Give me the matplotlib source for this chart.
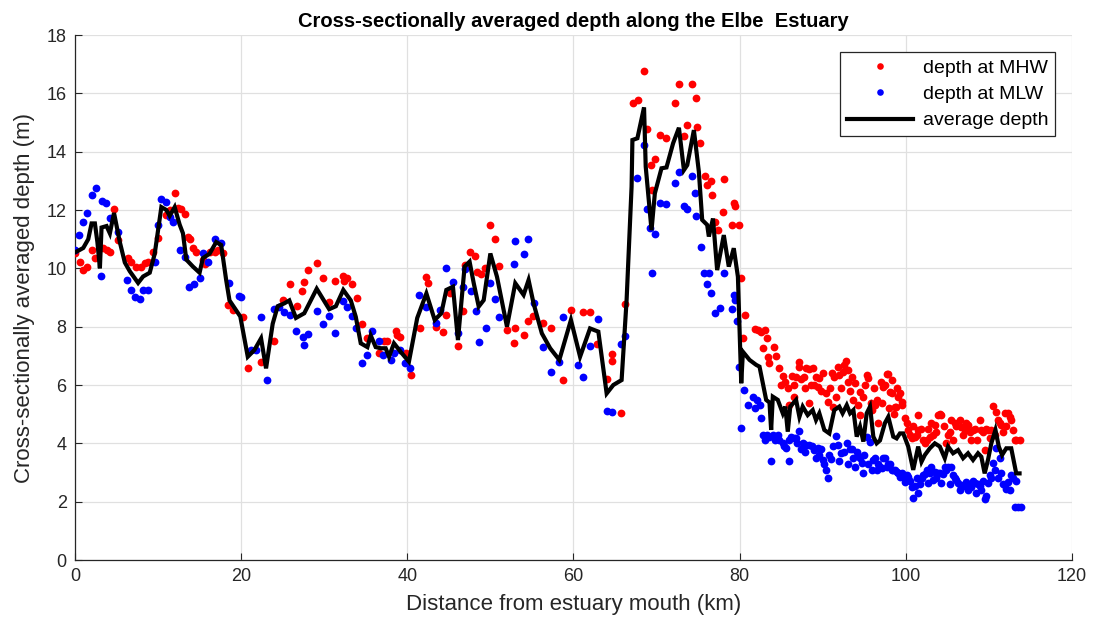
import matplotlib
matplotlib.use("Agg")
import matplotlib.pyplot as plt

plt.rcParams['font.family'] = ['Liberation Sans', 'DejaVu Sans']

# Depth at mean high water (km, m)
mhw_km = [0.0, 0.6, 1.0, 1.5, 2.0, 2.4, 3.4, 3.8, 4.2, 4.7, 5.2, 6.4, 6.8, 7.4, 7.9, 8.4, 8.8,
          9.4, 10.0, 11.0, 11.4, 12.0, 12.4, 12.8, 13.2, 13.6, 13.8, 14.2, 14.6, 15.4, 15.6, 16.2,
          16.8, 17.2, 17.8, 18.4, 19.0, 20.2, 20.8, 22.4, 24.0, 25.1, 25.9, 26.7, 27.3, 27.6,
          28.1, 29.1, 29.8, 30.6, 31.3, 32.3, 32.8, 32.4, 33.3, 33.9, 34.6, 35.2, 36.6, 37.2,
          37.6, 38.6, 38.8, 39.1, 39.9, 40.5, 41.5, 42.2, 42.5, 43.5, 44.3, 44.7, 45.1, 46.1,
          46.7, 46.9, 47.5, 48.2, 48.4, 48.9, 49.4, 50.0, 50.5, 51.0, 52.0, 52.8, 53.0, 54.0,
          54.5, 55.1, 56.3, 57.3, 58.7, 59.7, 61.2, 62.0, 62.8, 64.1, 64.7, 64.7, 65.7, 66.2,
          67.2, 67.8, 68.5, 68.9, 69.3, 69.4, 69.8, 70.4, 71.2, 72.2, 72.7, 73.3, 73.7, 74.3,
          74.7, 74.9, 75.2, 75.8, 76.1, 76.5, 76.7, 77.1, 77.4, 78.0, 78.1, 79.1, 79.3, 79.5,
          79.9, 80.2, 80.4, 80.6, 81.8, 82.2, 82.6, 82.8, 83.4, 83.6, 84.2, 84.8, 85.0, 85.5,
          86.0, 86.3, 86.8, 87.1, 87.2, 87.8, 88.0, 88.4, 88.6, 88.8, 89.2, 89.4, 89.6, 90.4,
          90.6, 91.2, 91.4, 91.8, 92.0, 92.4, 92.8, 93.1, 93.5, 93.9, 94.5, 94.5, 95.3, 95.5,
          95.9, 96.3, 96.7, 97.1, 97.3, 97.5, 97.8, 97.9, 98.1, 98.3, 98.4, 98.7, 98.8, 99.1,
          99.3, 99.5, 99.9, 100.3, 100.7, 101.1, 101.5, 101.5, 102.1, 102.5, 102.9, 103.1,
          103.5, 103.9, 104.3, 104.9, 105.3, 105.5, 105.9, 106.5, 106.7, 107.1, 107.5, 107.9,
          108.1, 108.9, 109.1, 109.5, 109.9, 110.3, 110.5, 110.9, 111.1, 111.5, 111.9, 112.3,
          112.7, 112.9, 113.1, 113.7,
          83.0, 83.3, 84.4, 85.2, 85.8, 86.5, 86.6, 87.4, 87.9, 88.3, 89.0, 89.8, 90.1, 90.9,
          91.1, 91.6, 92.2, 92.6, 93.0, 93.3, 93.7, 94.2, 94.8, 95.1, 95.8, 96.2, 96.6, 97.0,
          98.0, 98.6, 99.0, 99.6, 100.1, 100.5, 100.9, 101.3, 101.8, 102.3, 102.7, 103.3,
          103.7, 104.1, 104.6, 105.1, 105.7, 106.1, 106.9, 107.3, 107.7, 108.3, 108.6, 109.3,
          109.7, 110.1, 110.7, 111.3, 111.7, 112.1, 112.5, 113.3]
mhw_m = [10.51, 10.23, 9.94, 10.06, 10.63, 10.34, 10.69, 10.63, 10.57, 12.02, 10.97, 10.34,
         10.23, 10.06, 10.06, 10.17, 10.23, 10.57, 11.03, 11.83, 12.00, 12.59, 12.06, 12.02,
         11.86, 11.09, 11.00, 10.69, 10.57, 10.29, 10.15, 10.57, 10.57, 10.63, 10.51, 8.74,
         8.57, 8.34, 6.57, 6.80, 7.50, 8.90, 9.46, 8.70, 9.23, 9.54, 9.94, 10.17, 9.66, 8.86,
         9.57, 9.74, 9.66, 9.55, 9.46, 8.97, 8.10, 7.60, 7.10, 7.50, 7.50, 7.86, 7.70, 7.66,
         7.09, 6.34, 7.97, 9.69, 9.49, 7.98, 7.83, 8.40, 9.14, 7.35, 8.54, 10.10, 10.57, 10.43,
         9.89, 9.80, 10.00, 11.49, 11.00, 10.09, 7.89, 7.45, 7.97, 7.71, 8.20, 8.37, 8.14, 7.97,
         6.17, 8.57, 8.49, 8.51, 7.41, 6.20, 7.06, 6.83, 5.05, 8.77, 15.68, 15.77, 16.78, 14.77,
         13.54, 12.69, 13.74, 14.57, 14.46, 15.68, 16.32, 14.54, 14.91, 16.32, 15.83, 14.86,
         14.29, 13.17, 12.86, 13.00, 12.51, 11.60, 11.30, 11.94, 13.05, 11.49, 12.23, 12.15,
         11.49, 9.66, 7.60, 8.40, 7.92, 7.88, 7.83, 7.26, 6.97, 6.75, 7.29, 6.57, 6.00, 6.11,
         5.31, 6.31, 6.29, 6.63, 6.80, 6.29, 6.57, 6.55, 6.00, 6.57, 6.29, 5.94, 6.23, 5.71,
         5.43, 5.26, 6.29, 6.63, 6.34, 6.45, 6.82, 6.51, 6.29, 6.06, 5.77, 4.97, 6.34, 6.23,
         5.14, 5.31, 4.71, 5.37, 5.94, 6.00, 6.38, 6.38, 5.77, 6.17, 5.71, 5.26, 5.26, 5.60,
         5.71, 5.43, 4.86, 4.46, 4.17, 4.23, 4.97, 4.46, 4.11, 4.11, 4.23, 4.69, 4.63, 4.97,
         4.97, 4.00, 4.40, 4.80, 4.69, 4.80, 4.57, 4.46, 4.63, 4.11, 4.46, 4.80, 4.46, 3.77,
         4.46, 4.46, 5.28, 5.09, 4.80, 4.63, 5.03, 5.03, 4.80, 4.46, 4.11, 4.11,
         7.90, 7.60, 7.00, 6.30, 5.90, 6.00, 5.60, 6.20, 5.90, 5.40, 6.00, 5.80, 6.40, 5.90,
         6.40, 5.60, 5.90, 6.70, 6.10, 5.80, 5.50, 5.30, 5.60, 6.00, 5.40, 5.90, 5.50, 6.10,
         5.20, 5.00, 5.90, 5.30, 4.70, 4.30, 4.60, 4.30, 4.50, 4.00, 4.50, 4.30, 4.40, 5.00,
         4.60, 4.30, 4.10, 4.60, 4.30, 4.70, 4.40, 4.50, 4.10, 4.40, 4.50, 4.20, 4.30, 4.70,
         4.40, 4.60, 4.90, 4.10]

# Depth at mean low water (km, m)
mlw_km = [0.0, 0.5, 1.0, 1.5, 2.0, 2.5, 3.1, 3.2, 3.7, 4.2, 5.2, 6.3, 6.8, 7.2, 7.8, 8.2, 8.8,
          9.6, 10.0, 10.4, 11.0, 11.4, 11.8, 12.7, 13.2, 13.7, 14.3, 15.0, 15.4, 16.0, 16.9,
          17.6, 18.5, 19.8, 20.0, 21.2, 21.8, 22.4, 23.1, 23.9, 24.6, 25.2, 25.9, 26.6, 27.4,
          27.6, 28.1, 29.1, 29.8, 30.6, 31.3, 32.3, 32.8, 33.3, 33.8, 34.6, 35.2, 35.8, 36.6,
          37.1, 38.0, 38.4, 39.1, 39.7, 40.3, 41.4, 42.2, 43.5, 43.9, 44.7, 45.5, 46.1, 46.7,
          47.0, 47.7, 48.3, 48.6, 49.5, 50.0, 50.6, 51.0, 52.8, 53.0, 54.0, 54.5, 55.3, 56.3,
          57.3, 58.3, 58.8, 60.6, 61.2, 62.0, 63.0, 64.0, 64.7, 65.7, 66.2, 67.7, 68.5, 68.8,
          69.2, 69.5, 69.8, 70.4, 71.2, 72.2, 72.7, 73.3, 73.7, 74.3, 74.6, 74.8, 75.3, 75.7,
          76.1, 76.3, 76.5, 77.0, 77.6, 78.1, 79.1, 79.3, 79.5, 79.7, 79.9, 80.2, 80.5, 81.6,
          82.1, 82.4, 82.6, 83.0, 83.6, 83.8, 84.0, 84.8, 85.2, 85.6, 86.0, 86.2, 86.8, 87.1,
          87.6, 88.0, 88.4, 89.0, 89.4, 89.6, 90.0, 90.4, 90.6, 91.0, 91.6, 91.8, 92.2, 92.9,
          93.3, 93.7, 94.1, 94.3, 94.7, 94.9, 95.3, 95.7, 96.1, 96.5, 96.9, 97.1, 97.5, 97.9,
          98.3, 98.5, 98.9, 99.1, 99.3, 99.9, 100.3, 100.7, 100.9, 101.3, 101.5, 101.9, 102.3,
          102.5, 103.1, 103.5, 103.7, 104.1, 104.3, 104.7, 105.1, 105.5, 105.9, 106.3, 106.5,
          106.9, 107.3, 107.7, 108.3, 108.5, 108.9, 109.5, 109.9, 110.1, 110.5, 110.9, 111.3,
          111.5, 111.9, 112.3, 112.5, 112.7, 112.9, 113.1, 113.5, 113.9,
          81.0, 81.9, 82.8, 83.3, 84.3, 84.6, 85.4, 85.9, 86.5, 86.9, 87.4, 87.9, 88.7, 89.2,
          89.8, 90.2, 90.8, 91.3, 92.0, 92.6, 93.0, 93.5, 93.9, 94.5, 95.0, 95.5, 95.9, 96.3,
          96.7, 97.3, 97.7, 98.1, 98.7, 99.5, 99.7, 100.1, 100.5, 101.1, 101.7, 102.1, 102.7,
          102.9, 103.3, 103.9, 104.5, 104.9, 105.3, 105.7, 106.1, 106.7, 107.1, 107.5, 107.9,
          108.1, 108.7, 109.1, 109.3, 109.7, 110.3, 110.7, 111.1, 111.7, 112.1, 113.3]
mlw_m = [10.63, 11.14, 11.60, 11.89, 12.51, 12.74, 9.74, 12.32, 12.23, 11.71, 11.26, 9.60,
         9.26, 9.03, 8.94, 9.26, 9.26, 10.23, 11.49, 12.37, 12.26, 11.77, 11.60, 10.63, 10.38,
         9.35, 9.46, 9.66, 10.51, 10.23, 11.00, 10.88, 9.51, 9.05, 9.03, 7.20, 7.20, 8.34,
         6.17, 8.60, 8.66, 8.50, 8.40, 7.85, 7.66, 7.37, 7.74, 8.54, 8.10, 8.37, 7.77, 8.88,
         8.66, 8.37, 7.94, 6.77, 7.03, 7.85, 7.52, 7.03, 6.86, 7.10, 7.20, 6.74, 6.57, 9.10,
         8.66, 8.11, 8.57, 10.00, 9.54, 7.77, 9.35, 9.97, 9.23, 8.55, 7.49, 7.97, 9.49, 8.95,
         8.34, 10.14, 10.95, 10.48, 11.00, 8.80, 7.29, 6.46, 6.80, 8.32, 6.69, 6.29, 7.35, 8.25,
         5.12, 5.07, 7.39, 7.69, 13.09, 14.23, 12.02, 11.37, 9.85, 11.17, 12.23, 12.20, 12.94,
         13.31, 12.14, 12.05, 13.17, 12.60, 11.80, 10.74, 9.85, 9.45, 9.85, 9.17, 8.48, 8.63,
         9.85, 8.60, 9.09, 8.90, 8.20, 6.63, 4.51, 5.83, 5.60, 5.49, 5.31, 4.86, 4.11, 4.23,
         3.41, 4.30, 4.11, 4.00, 3.83, 3.41, 4.23, 4.17, 4.42, 4.00, 3.94, 3.94, 3.77, 3.85,
         3.60, 3.43, 3.09, 2.80, 3.45, 4.25, 3.94, 3.66, 4.00, 3.80, 3.49, 3.70, 3.55, 3.31,
         2.97, 4.23, 4.05, 3.43, 3.09, 3.20, 3.15, 3.49, 3.30, 3.09, 3.09, 3.03, 3.00, 2.86,
         2.69, 2.86, 2.51, 2.11, 2.80, 2.29, 2.80, 2.95, 3.09, 3.20, 3.03, 2.80, 2.97, 2.63,
         3.20, 3.20, 3.20, 2.80, 2.63, 2.40, 2.57, 2.69, 2.55, 2.63, 2.29, 2.55, 2.08, 2.63,
         2.91, 3.31, 3.83, 3.49, 2.97, 2.57, 2.69, 2.40, 2.91, 2.80, 1.83, 1.83, 1.83,
         5.30, 5.20, 4.30, 4.30, 4.10, 4.30, 3.90, 4.10, 4.20, 4.00, 3.80, 3.70, 3.90, 3.50,
         3.80, 3.30, 3.60, 3.90, 3.40, 3.70, 3.30, 3.80, 3.20, 3.50, 3.60, 3.30, 3.10, 3.50,
         3.30, 3.50, 3.20, 3.30, 3.10, 3.00, 2.85, 2.90, 2.70, 2.55, 2.60, 2.90, 2.65, 3.00,
         2.75, 3.00, 2.95, 3.10, 2.60, 2.90, 2.75, 2.50, 2.55, 2.40, 2.50, 2.70, 2.60, 2.40,
         2.70, 2.20, 2.80, 3.10, 2.80, 2.60, 2.45, 2.70]

# Cross-sectionally averaged depth (km, m)
avg_km = [0.0, 0.5, 1.0, 1.6, 2.0, 2.4, 2.7, 3.0, 3.2, 3.8, 4.2, 4.7, 5.4, 6.0, 6.6, 7.6, 8.2,
          9.0, 9.6, 10.4, 11.0, 11.4, 12.0, 12.6, 13.0, 13.4, 14.2, 15.0, 15.4, 16.2, 17.0,
          17.6, 18.2, 18.6, 19.9, 20.8, 21.6, 22.4, 23.0, 23.8, 24.4, 25.2, 25.8, 26.6, 27.6,
          29.1, 30.6, 31.4, 32.3, 33.2, 33.8, 34.4, 35.2, 35.6, 36.2, 36.8, 37.4, 37.8, 38.4,
          39.2, 40.2, 41.2, 42.3, 43.3, 44.1, 44.7, 45.5, 46.1, 46.9, 47.5, 48.0, 48.6, 49.2,
          50.0, 50.8, 52.0, 53.0, 54.0, 54.6, 55.2, 56.2, 57.2, 58.3, 59.7, 60.8, 62.0, 63.0,
          64.0, 64.8, 65.8, 66.4, 67.0, 67.1, 67.7, 68.5, 68.7, 69.4, 69.8, 70.6, 71.2, 72.0,
          72.7, 73.3, 73.7, 74.5, 75.1, 75.5, 76.1, 76.3, 76.8, 77.3, 78.1, 78.7, 79.3, 79.8,
          80.2, 80.4, 81.2, 82.0, 82.4, 83.2, 83.6, 83.8, 84.0, 84.6, 85.2, 85.5, 85.8, 86.1,
          86.8, 87.2, 87.6, 88.2, 88.8, 89.2, 89.6, 90.2, 90.8, 91.4, 92.0, 92.4, 92.9, 93.3,
          93.7, 94.1, 94.5, 94.9, 95.3, 95.7, 96.1, 96.5, 96.9, 97.5, 97.9, 98.5, 98.9, 99.3,
          99.7, 100.3, 100.9, 101.5, 101.9, 102.3, 102.9, 103.5, 104.1, 104.7, 105.1, 105.7,
          106.3, 106.9, 107.5, 108.1, 108.7, 109.1, 109.5, 109.9, 110.3, 110.8, 111.2, 111.6,
          112.1, 112.7, 113.3, 113.7]
avg_m = [10.55, 10.62, 10.70, 11.00, 11.54, 11.54, 10.90, 10.00, 11.40, 11.45, 11.20, 11.90,
         10.90, 10.20, 9.90, 9.50, 9.72, 9.85, 10.50, 12.10, 12.00, 11.80, 12.10, 11.50, 11.20,
         10.30, 10.06, 9.85, 10.35, 10.50, 10.90, 10.80, 9.60, 8.90, 8.35, 6.97, 7.20, 7.60,
         6.57, 8.10, 8.70, 8.80, 8.90, 8.30, 8.46, 9.30, 8.60, 8.70, 9.26, 8.90, 8.34, 7.43,
         7.30, 7.70, 7.30, 7.26, 7.26, 6.97, 7.43, 7.14, 6.80, 8.30, 9.14, 8.23, 8.46, 9.26,
         9.37, 7.54, 10.06, 10.23, 9.49, 8.69, 8.91, 10.51, 9.71, 8.00, 9.49, 9.09, 9.60, 8.80,
         7.77, 7.26, 6.86, 8.23, 6.97, 7.94, 7.83, 5.71, 6.00, 6.17, 8.91, 12.80, 14.40, 14.46,
         15.52, 13.49, 11.31, 12.57, 13.43, 13.46, 14.29, 14.82, 13.37, 13.54, 14.74, 13.31,
         11.66, 11.49, 11.09, 11.71, 9.94, 11.14, 10.06, 10.69, 9.71, 6.06, 7.14, 6.86, 6.69,
         6.63, 5.49, 5.40, 4.46, 5.60, 5.49, 5.03, 5.26, 4.40, 5.26, 5.49, 4.91, 5.26, 4.97,
         5.14, 4.80, 5.03, 4.46, 4.34, 5.14, 5.26, 5.03, 5.31, 5.03, 5.14, 4.23, 4.57, 4.06,
         5.03, 5.26, 4.23, 4.00, 4.10, 4.70, 4.91, 4.23, 4.17, 4.34, 4.34, 3.89, 3.09, 3.89,
         3.37, 3.60, 3.83, 4.00, 3.89, 3.49, 3.89, 3.66, 3.77, 3.49, 3.66, 3.43, 3.66, 3.54,
         2.97, 3.43, 4.00, 4.46, 3.89, 3.60, 3.83, 3.83, 2.97, 2.97]

x_ticks = [0, 20, 40, 60, 80, 100, 120]
y_ticks = [0, 2, 4, 6, 8, 10, 12, 14, 16, 18]

axis_grey = (0.15, 0.15, 0.15)

fig = plt.figure(figsize=(10.96, 6.32), dpi=100)
ax = fig.add_axes([0.0684, 0.1139, 0.9096, 0.8307])

ax.plot(mhw_km, mhw_m, linestyle='none', marker='o', markersize=5.6,
        markeredgewidth=0, color=(1, 0, 0), label='depth at MHW', zorder=3)
ax.plot(mlw_km, mlw_m, linestyle='none', marker='o', markersize=5.6,
        markeredgewidth=0, color=(0, 0, 1), label='depth at MLW', zorder=3)
ax.plot(avg_km, avg_m, color='black', linewidth=3.0, label='average depth',
        zorder=4, solid_joinstyle='miter')

ax.set_xlim(0, 120)
ax.set_ylim(0, 18)
ax.set_xticks(x_ticks)
ax.set_yticks(y_ticks)
ax.grid(True, color=(0.88, 0.88, 0.88), linewidth=0.9)
ax.set_axisbelow(True)

for side in ('top', 'right'):
    ax.spines[side].set_visible(False)
for side in ('left', 'bottom'):
    ax.spines[side].set_color(axis_grey)
    ax.spines[side].set_linewidth(0.9)

ax.tick_params(direction='in', length=5, width=0.8, colors=axis_grey,
               labelsize=13, pad=6)

ax.set_xlabel('Distance from estuary mouth (km)', fontsize=16, color=axis_grey, labelpad=6)
ax.set_ylabel('Cross-sectionally averaged depth (m)', fontsize=16, color=axis_grey, labelpad=8)
ax.set_title('Cross-sectionally averaged depth along the Elbe  Estuary',
             fontsize=14.5, fontweight='bold', color='black', pad=6)

leg = ax.legend(loc='upper right', bbox_to_anchor=(0.9835, 0.967), fontsize=14,
                frameon=True, fancybox=False, edgecolor=axis_grey, framealpha=1,
                handlelength=3.4, borderpad=0.35, labelspacing=0.45, handletextpad=0.5,
                markerscale=0.85, borderaxespad=0)
leg.get_frame().set_linewidth(0.9)

fig.savefig('out.png', dpi=100)
